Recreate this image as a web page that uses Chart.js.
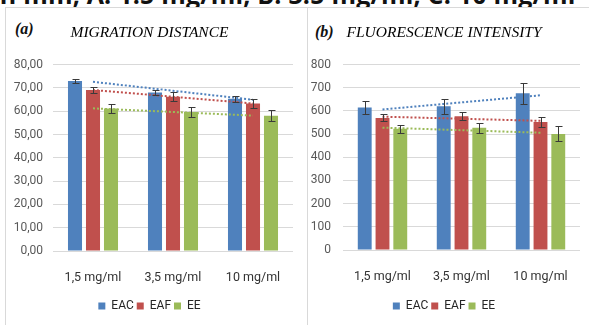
<!DOCTYPE html>
<html>
<head>
<meta charset="utf-8">
<script src="https://cdn.jsdelivr.net/npm/chart.js@4.4.9/dist/chart.umd.min.js"></script>
<style>
  html, body { margin:0; padding:0; background:#fff; }
  #wrap { position:relative; width:590px; height:325px; overflow:hidden; }
  .line { position:absolute; background:#d9d9d9; }
  .tag { position:absolute; font:italic 700 16px/18px 'Liberation Serif', serif; color:#111; }
  canvas { position:absolute; }
</style>
</head>
<body>
<div id="wrap">
  <div style="position:absolute;left:0;top:0;width:590px;height:7px;overflow:hidden">
    <span style="position:absolute;left:-8px;top:-18px;font:700 25px/25px 'Open Sans',sans-serif;color:#111;white-space:nowrap;letter-spacing:0.2px">in mm, A: 1.5 mg/ml, B: 3.5 mg/ml, C: 10 mg/ml</span>
  </div>
  <div class="line" style="left:5px;top:7px;width:584px;height:1px"></div>
  <div class="line" style="left:5px;top:7px;width:1px;height:318px"></div>
  <div class="line" style="left:307px;top:7px;width:1px;height:318px"></div>
  <div class="tag" style="left:15px;top:20px">(a)</div>
  <div class="tag" style="left:315px;top:23px">(b)</div>
  <canvas id="cA" width="300" height="317" style="left:6px;top:8px"></canvas>
  <canvas id="cB" width="281" height="317" style="left:308px;top:8px"></canvas>
</div>
<script>
/* data */
const categories = ['1,5 mg/ml', '3,5 mg/ml', '10 mg/ml'];
const seriesNames = ['EAC', 'EAF', 'EE'];
const colors = ['#4F81BD', '#C0504D', '#9BBB59'];

// (a) migration distance
const migEAC = [73.0, 68.0, 65.3];
const migEAF = [69.1, 66.2, 63.3];
const migEE  = [61.2, 59.7, 58.1];
const migErrEAC = [1.0, 1.2, 1.2];
const migErrEAF = [1.4, 1.9, 1.9];
const migErrEE  = [2.0, 2.0, 2.3];
const migTicks = [0, 80, 10];

// (b) fluorescence intensity
const fluEAC = [615, 620, 676];
const fluEAF = [570, 577, 552];
const fluEE  = [523, 527, 501];
const fluErrEAC = [28, 33, 44];
const fluErrEAF = [15, 17, 22];
const fluErrEE  = [17, 20, 32];
const fluTicks = [0, 800, 100];

const SANS = 'Roboto';

/* least squares line, like the excel trendline */
const linearTrend = vals => {
  const n = vals.length, xs = vals.map((_, i) => i + 1);
  const mx = xs.reduce((a, b) => a + b) / n, my = vals.reduce((a, b) => a + b) / n;
  let sxy = 0, sxx = 0;
  xs.forEach((x, i) => { sxy += (x - mx) * (vals[i] - my); sxx += (x - mx) * (x - mx); });
  const k = sxy / sxx;
  return xs.map(x => my + k * (x - mx));
};

const errorBars = {
  id: 'errorBars',
  afterDatasetsDraw(chart) {
    const { ctx } = chart, y = chart.scales.y;
    ctx.save();
    ctx.strokeStyle = '#3a3a3a';
    ctx.lineWidth = 1;
    chart.data.datasets.forEach((ds, di) => {
      if (!ds.errors) return;
      chart.getDatasetMeta(di).data.forEach((bar, i) => {
        const v = ds.data[i], e = ds.errors[i];
        const x = Math.round(bar.x) + 0.5;
        const t = Math.round(y.getPixelForValue(v + e)) + 0.5;
        const b = Math.round(y.getPixelForValue(v - e)) + 0.5;
        ctx.beginPath();
        ctx.moveTo(x, t); ctx.lineTo(x, b);
        ctx.moveTo(x - 3, t); ctx.lineTo(x + 4, t);
        ctx.moveTo(x - 3, b); ctx.lineTo(x + 4, b);
        ctx.stroke();
      });
    });
    ctx.restore();
  }
};

const makeChart = (id, title, vals, errs, ticks, fmt, o) => {
  const bars = vals.map((d, i) => ({
    label: seriesNames[i], data: d, errors: errs[i],
    backgroundColor: colors[i], borderWidth: 0,
    categoryPercentage: 0.675, barPercentage: 0.78
  }));
  const trends = vals.map((d, i) => ({
    type: 'line', label: seriesNames[i] + ' trend', data: linearTrend(d),
    borderColor: colors[i], borderWidth: 2, borderDash: [2, 2],
    pointRadius: 0, fill: false, order: -1
  }));
  return new Chart(document.getElementById(id), {
    type: 'bar',
    data: { labels: categories, datasets: [...bars, ...trends] },
    plugins: [errorBars],
    options: {
      responsive: false, animation: false,
      layout: { padding: { left: 0, right: o.right, top: 0, bottom: 3 } },
      plugins: {
        title: {
          display: true, text: title, color: '#000',
          font: { family: 'Liberation Serif', style: 'italic', size: 15.5, weight: 'normal' },
          padding: { top: 16, bottom: 22 }
        },
        legend: {
          position: 'bottom',
          labels: {
            boxWidth: 7, boxHeight: 7, padding: 3, color: '#262626',
            font: { family: SANS, size: 12 },
            filter: it => it.datasetIndex < 3
          }
        },
        tooltip: { enabled: false }
      },
      scales: {
        x: {
          grid: { display: false }, border: { display: false },
          ticks: { color: '#333', padding: 11, font: { family: SANS, size: 12.5 } },
          afterFit: s => { s.height = o.xh; }
        },
        y: {
          min: ticks[0], max: ticks[1],
          grid: { color: '#d9d9d9', drawTicks: false }, border: { display: false },
          ticks: { stepSize: ticks[2], color: '#595959', padding: o.tp,
                   font: { family: SANS, size: 12 }, callback: fmt },
          afterFit: s => { s.width = o.yw; }
        }
      }
    }
  });
};

makeChart('cA', 'MIGRATION DISTANCE', [migEAC, migEAF, migEE], [migErrEAC, migErrEAF, migErrEE],
  migTicks, v => v.toFixed(2).replace('.', ','), { right: 13, xh: 46, yw: 47, tp: 10 });
makeChart('cB', 'FLUORESCENCE INTENSITY', [fluEAC, fluEAF, fluEE], [fluErrEAC, fluErrEAF, fluErrEE],
  fluTicks, v => String(v), { right: 9, xh: 47, yw: 35, tp: 12 });
</script>
</body>
</html>
